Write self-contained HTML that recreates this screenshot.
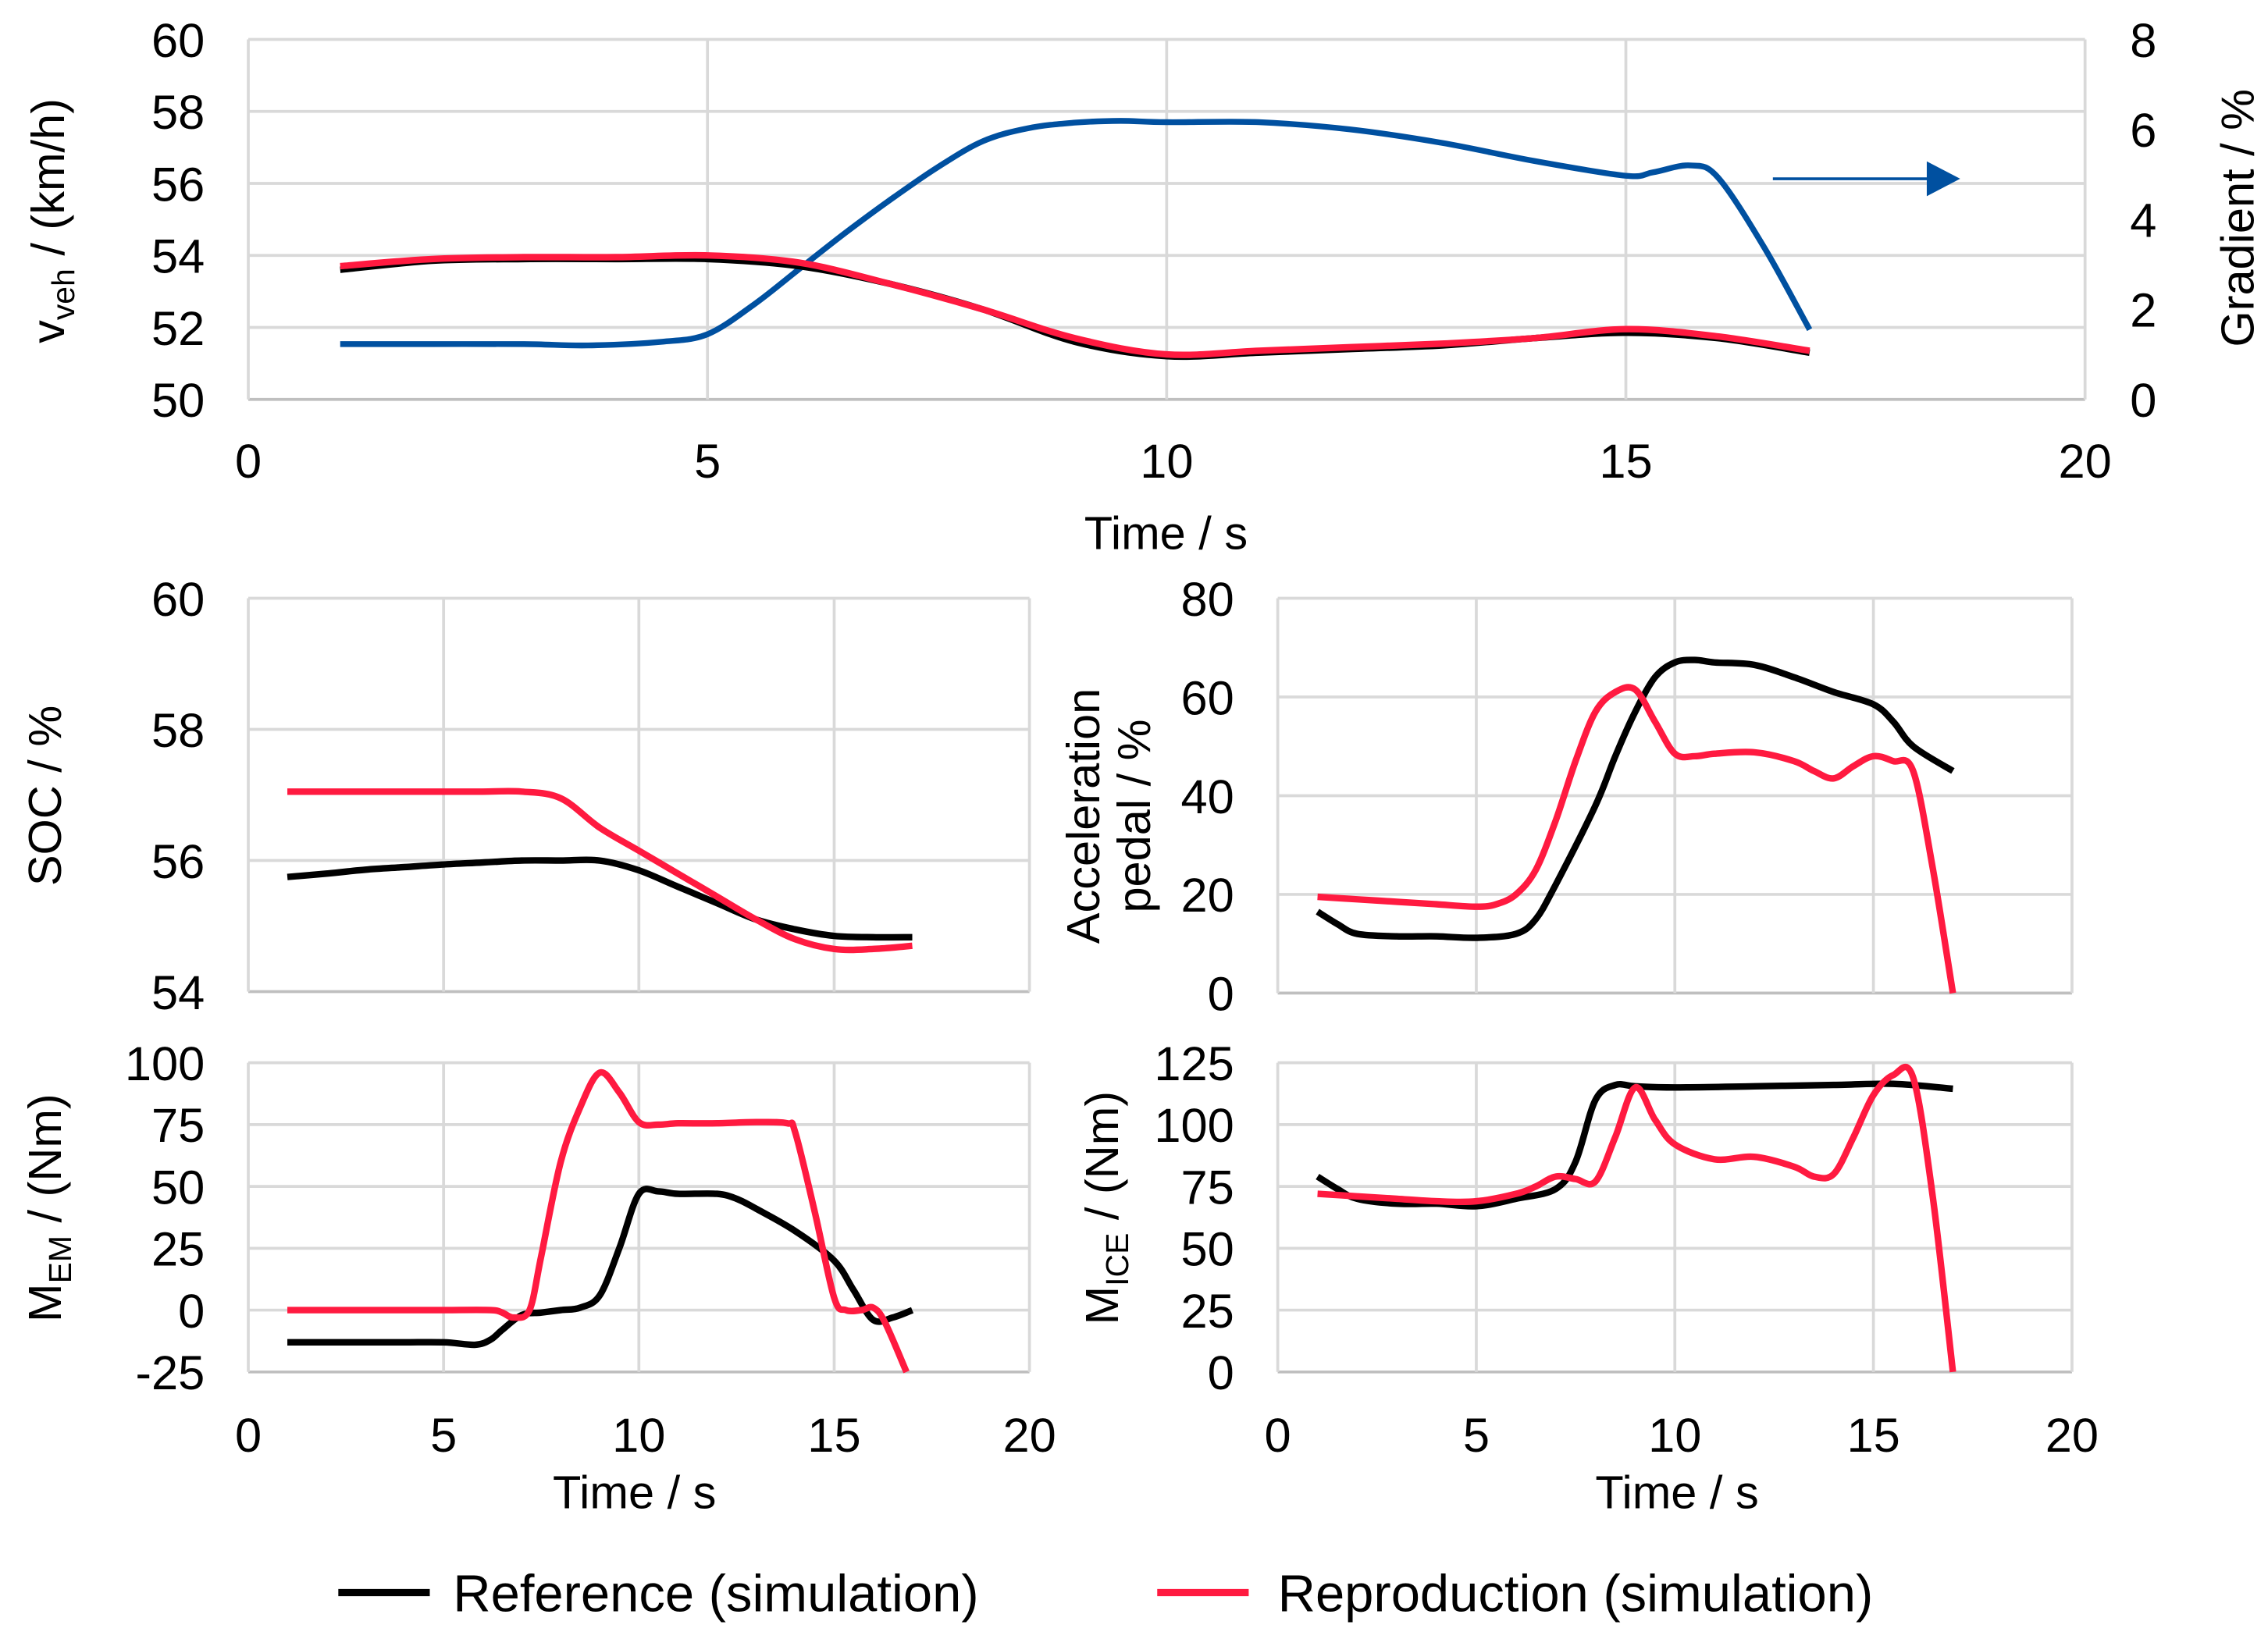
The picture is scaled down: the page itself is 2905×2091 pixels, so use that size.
<!DOCTYPE html>
<html><head><meta charset="utf-8"><style>
html,body{margin:0;padding:0;background:#fff}
svg{display:block;font-family:"Liberation Sans",Arial,sans-serif}
</style></head><body>
<svg id="fig" width="2905" height="2091" viewBox="0 0 1562 1124" xmlns="http://www.w3.org/2000/svg"></svg>
<script>
// ---- data ----
const spdT = [1,2,3,4,5,6,7,8,9,10,11,12,13,14,15,16,17];
const spdRef = [53.6,53.85,53.9,53.9,53.9,53.7,53.2,52.5,51.6,51.2,51.3,51.4,51.5,51.7,51.85,51.7,51.3];
const spdRep = [53.7,53.9,53.95,53.95,54.0,53.8,53.2,52.5,51.7,51.25,51.35,51.45,51.55,51.7,51.95,51.75,51.35];
const gradT = [1,2,3,3.7,4.5,5,5.5,6,6.5,7,7.5,8,8.5,9,9.5,10,11,12,13,14,15,15.3,15.7,16,16.5,17];
const gradV = [1.23,1.23,1.23,1.2,1.28,1.45,2.1,2.9,3.7,4.45,5.15,5.74,6.03,6.15,6.19,6.16,6.16,6.0,5.7,5.3,4.97,5.05,5.2,4.94,3.4,1.55];
const socT = [1,2,3,4,5,6,7,8,9,10,11,12,13,14,15,16,17];
const socRef = [55.75,55.8,55.86,55.9,55.94,55.97,56.0,56.0,56.0,55.85,55.6,55.35,55.1,54.95,54.85,54.83,54.83];
const socRep = [57.05,57.05,57.05,57.05,57.05,57.05,57.05,56.95,56.5,56.15,55.8,55.45,55.1,54.8,54.65,54.65,54.7];
const pedRefT = [1,1.5,2,3,4,5,6,6.5,7,8,8.5,9,9.5,10,10.5,11,12,13,14,15,15.5,16,17];
const pedRefV = [16.5,14,12,11.5,11.5,11.2,12,15,22,38,48,57,64,67,67.5,67,66.5,64,61,58.5,55,50,45];
const pedRepT = [1,2,3,4,5,5.5,6,6.5,7,7.5,8,8.5,9,9.5,10,10.5,11,12,13,13.5,14,14.5,15,15.5,16,16.5,17];
const pedRepV = [19.5,19,18.5,18,17.5,18,20,25,35,47,57,61,61.5,55,48.5,48,48.5,48.8,47,45,43.5,46,48,47,45,25,0];
const emRefT = [1,2,3,4,5,5.8,6.2,6.5,7,7.5,8,8.5,9,9.5,10,10.5,11,12,12.5,13,14,15,15.5,16,16.5,17];
const emRefV = [-13,-13,-13,-13,-13,-14,-12,-8,-2,-1,0,1,6,25,47,48,47,47,45,41,32,20,8,-4,-3,0];
const emRepT = [1,2,3,4,5,6.2,6.5,6.8,7.2,7.5,8,8.5,9,9.5,10,10.5,11,12,13,13.8,14,14.5,15,15.3,15.7,16,16.3,16.85];
const emRepV = [0,0,0,0,0,0,-1,-3,0,22,60,82,96,88,76,75,75.5,75.5,76,75.5,72,40,5,0,0,1,-5,-25];
const iceRefT = [1,1.5,2,3,4,5,6,7,7.5,8,8.5,9,10,12,14,15.5,17];
const iceRefV = [79,74,70,68,68,67,70,74,85,110,116,115.5,115,115.5,116,116.5,114.5];
const iceRepT = [1,2,3,4,5,6,6.5,7,7.5,8,8.5,9,9.5,10,11,12,13,13.5,14,14.5,15,15.5,16,16.5,17];
const iceRepV = [72,71,70,69,69,72,75,79,78,77,95,115,102,92,86,87,83,79,80,95,112,120,119,70,0];

const BLACK='#000', RED='#ff1a40', BLUE='#0050a0';
const NS='http://www.w3.org/2000/svg';
const svg=document.getElementById('fig');
const TICK=33;
function el(tag,attrs,parent){const e=document.createElementNS(NS,tag);for(const k in attrs)e.setAttribute(k,attrs[k]);(parent||svg).appendChild(e);return e;}
function scale(d0,d1,r0,r1){return v=>r0+(v-d0)/(d1-d0)*(r1-r0);}
function smoothPath(pts){
  let d='M'+pts[0][0].toFixed(1)+','+pts[0][1].toFixed(1);
  for(let i=0;i<pts.length-1;i++){
    const p0=pts[Math.max(0,i-1)],p1=pts[i],p2=pts[i+1],p3=pts[Math.min(pts.length-1,i+2)];
    const c1=[p1[0]+(p2[0]-p0[0])/6,p1[1]+(p2[1]-p0[1])/6];
    const c2=[p2[0]-(p3[0]-p1[0])/6,p2[1]-(p3[1]-p1[1])/6];
    d+=' C'+c1.map(v=>v.toFixed(1)).join(',')+' '+c2.map(v=>v.toFixed(1)).join(',')+' '+p2[0].toFixed(1)+','+p2[1].toFixed(1);
  }
  return d;
}
function text(x,y,s,attrs){const t=el('text',Object.assign({x:x,y:y,'font-size':TICK,fill:'#000','text-anchor':'middle'},attrs||{}));t.textContent=s;return t;}

function panel(name,x0,x1,y0,y1,yMin,yMax,yStep,xLabels){
  const g=el('g',{});
  
  
  const sx=scale(0,20,x0,x1), sy=scale(yMin,yMax,y1,y0);
  for(let v=yMin;v<=yMax+1e-9;v+=yStep){
    const ln=el('line',{x1:x0,x2:x1,y1:sy(v),y2:sy(v),stroke:v===yMin?'#bfbfbf':'#d9d9d9','stroke-width':2},g);
    
    
    const t=text(x0-30,sy(v)+12,String(v),{'text-anchor':'end'});
    
    
  }
  for(let v=0;v<=20;v+=5){
    const ln=el('line',{x1:sx(v),x2:sx(v),y1:y0,y2:y1,stroke:'#d9d9d9','stroke-width':2},g);
    
    
    if(xLabels!==null){
      const t=text(sx(v),xLabels,String(v));
      
      
    }
  }
  return {sx,sy,g};
}
function series(p,T,V,color,name,w,sy){
  const f=sy||p.sy;
  const pts=T.map((t,i)=>[p.sx(t),f(V[i])]);
  const path=el('path',{d:smoothPath(pts),fill:'none',stroke:color,'stroke-width':w||4.5,'stroke-linejoin':'round'},p.g);
  
  
}

// top panel
const topP=panel('speed-panel',171,1436,27,275,50,60,2,329);
const syGrad=scale(0,8,275,27);
for(let v=0;v<=8;v+=2){const t=text(1467,syGrad(v)+12,String(v),{'text-anchor':'start'});

}
series(topP,gradT,gradV,BLUE,'gradient-line',4,syGrad);
series(topP,spdT,spdRef,BLACK,'speed-reference-line');
series(topP,spdT,spdRep,RED,'speed-reproduction-line');
const arr=el('line',{x1:1221,x2:1330,y1:123,y2:123,stroke:BLUE,'stroke-width':2});


const ah=el('polygon',{points:'1327,111 1350,123 1327,135',fill:BLUE});


let t=text(803,378,'Time / s',{'font-size':32});

// SOC
const soc=panel('soc-panel',171,709,412,683,54,60,2,null);
series(soc,socT,socRef,BLACK,'soc-reference-line');
series(soc,socT,socRep,RED,'soc-reproduction-line');
// pedal
const ped=panel('pedal-panel',880,1427,412,684,0,80,20,null);
series(ped,pedRefT,pedRefV,BLACK,'pedal-reference-line');
series(ped,pedRepT,pedRepV,RED,'pedal-reproduction-line');
// EM
const em=panel('em-torque-panel',171,709,732,945,-25,100,25,1000);
series(em,emRefT,emRefV,BLACK,'em-reference-line');
series(em,emRepT,emRepV,RED,'em-reproduction-line');
// ICE
const ice=panel('ice-torque-panel',880,1427,732,945,0,125,25,1000);
series(ice,iceRefT,iceRefV,BLACK,'ice-reference-line');
series(ice,iceRepT,iceRepV,RED,'ice-reproduction-line');
t=text(437,1039,'Time / s',{'font-size':32});
t=text(1155,1039,'Time / s',{'font-size':32});

// legend
let l=el('line',{x1:233,x2:296,y1:1097,y2:1097,stroke:BLACK,'stroke-width':5});

t=text(312,1110,'Reference (simulation)',{'text-anchor':'start','font-size':36});

l=el('line',{x1:797,x2:860,y1:1097,y2:1097,stroke:RED,'stroke-width':5});

t=text(880,1110,'Reproduction (simulation)',{'text-anchor':'start','font-size':36});

</script>
<div style="position:absolute;left:0;top:0;width:2905px;height:2091px;pointer-events:none">
<svg width="2905" height="2091" viewBox="0 0 1562 1124" style="position:absolute;left:0;top:0;font-family:'Liberation Sans',Arial,sans-serif">
<text transform="translate(44,152) rotate(-90)" text-anchor="middle" font-size="32">v<tspan font-size="22" dy="7">veh</tspan><tspan dy="-7"> / (km/h)</tspan></text>
<text transform="translate(1552,150) rotate(-90)" text-anchor="middle" font-size="32">Gradient / %</text>
<text transform="translate(42,548) rotate(-90)" text-anchor="middle" font-size="32">SOC / %</text>
<text transform="translate(757,562) rotate(-90)" text-anchor="middle" font-size="32">Acceleration</text>
<text transform="translate(792,562) rotate(-90)" text-anchor="middle" font-size="32">pedal / %</text>
<text transform="translate(42,832) rotate(-90)" text-anchor="middle" font-size="32">M<tspan font-size="22" dy="7">EM</tspan><tspan dy="-7">  / (Nm)</tspan></text>
<text transform="translate(770,832) rotate(-90)" text-anchor="middle" font-size="32">M<tspan font-size="22" dy="7">ICE</tspan><tspan dy="-7">  / (Nm)</tspan></text>
</svg></div>
</body></html>
